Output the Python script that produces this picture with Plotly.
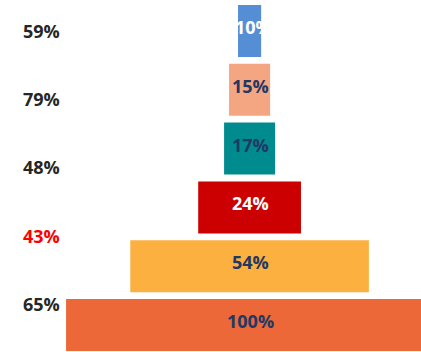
import plotly.graph_objects as go

# Funnel stages, top to bottom
stages = ["Stage 6", "Stage 5", "Stage 4", "Stage 3", "Stage 2", "Stage 1"]
widths = [6.3, 11.2, 13.9, 28.0, 65.0, 100.0]
bar_labels = ["10%", "15%", "17%", "24%", "54%", "100%"]
bar_colors = ["#558ED5", "#F4A582", "#008B8E", "#CC0000", "#FBB040", "#EC6839"]
label_colors = ["#FFFFFF", "#1F3864", "#1F3864", "#FFFFFF", "#1F3864", "#1F3864"]

# Step-to-step conversion rates shown down the left side
conv_rates = ["59%", "79%", "48%", "43%", "65%"]
conv_colors = ["#262626", "#262626", "#262626", "#FF0000", "#262626"]

ypos = list(range(len(stages)))

fig = go.Figure(
    go.Bar(
        y=ypos,
        x=widths,
        base=[-w / 2 for w in widths],
        orientation="h",
        width=0.884,
        marker=dict(color=bar_colors, line=dict(width=0)),
        hoverinfo="skip",
    )
)

# Centered labels on each bar (white text may spill past the narrowest bar)
for y, t, c in zip(ypos, bar_labels, label_colors):
    fig.add_annotation(
        x=0, xref="x", y=y, yref="y", yshift=4,
        xshift=4 if y == 0 else 1,
        text=f"<b>{t}</b>", showarrow=False,
        font=dict(family="Open Sans", size=18, color=c),
    )

step = 1.16
for i, (r, c) in enumerate(zip(conv_rates, conv_colors)):
    fig.add_annotation(
        x=0.148, xref="paper", xanchor="right",
        y=i * step, yref="y", yanchor="middle",
        text=f"<b>{r}</b>", showarrow=False,
        font=dict(family="Open Sans", size=18, color=c),
    )

fig.update_layout(
    width=421, height=352,
    margin=dict(l=0, r=0, t=0, b=0),
    paper_bgcolor="white", plot_bgcolor="white",
    showlegend=False,
    xaxis=dict(range=[-68.0, 46.7], visible=False, fixedrange=True),
    yaxis=dict(range=[5.459, -0.527], visible=False, fixedrange=True),
)

fig.write_html("out.html")
